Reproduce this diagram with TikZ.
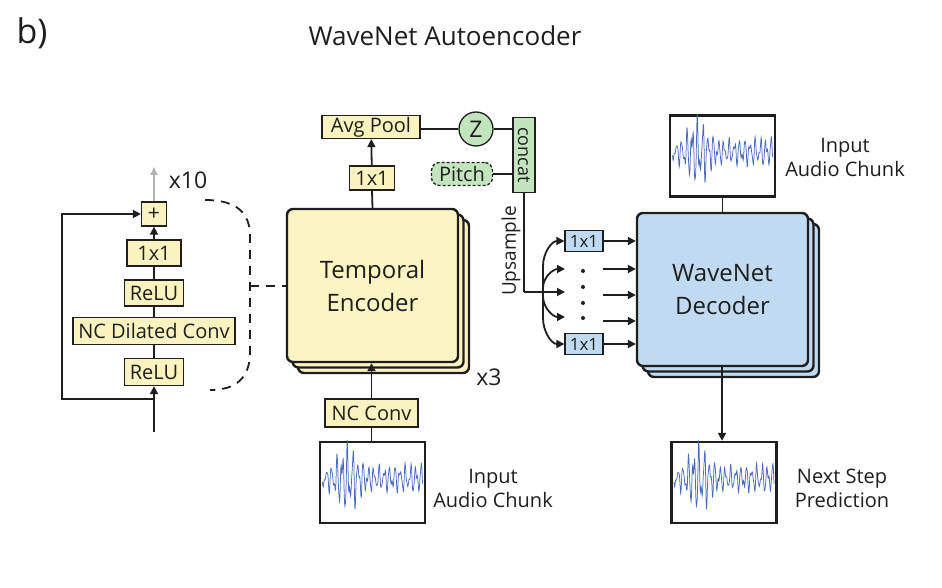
\documentclass[tikz,border=0pt]{standalone}
\usepackage{fontspec}
\setmainfont{Open Sans}
\usetikzlibrary{arrows.meta,shadows}
\definecolor{ylw}{HTML}{FAF3BF}
\definecolor{ylwbig}{HTML}{FCF5C3}
\definecolor{blu}{HTML}{BFDAF1}
\definecolor{grn}{HTML}{C3E5BE}
\definecolor{wav}{HTML}{4A6CBD}
\definecolor{ink}{HTML}{1E1E1E}
\newcommand\fs[1]{\fontsize{#1}{#1}\selectfont}
\newcommand\wavein[1]{%
  \begin{scope}
    \clip (#1.south west) rectangle (#1.north east);
    \begin{scope}[shift={(#1.center)}]
      \draw[wav, line width=0.75pt] plot[domain=-50:50, samples=300] (\x, {wsig((\x+50)/100)});
    \end{scope}
  \end{scope}}
\begin{document}
\begin{tikzpicture}[x=1pt,y=-1pt,
  declare function={wenv(\t)=10+7*\t+28*exp(-((\t-0.25)/0.13)*((\t-0.25)/0.13));
                    wsig(\t)=-4+wenv(\t)*(0.6*sin(mod(\t*19,1)*360)+0.3*sin(mod(\t*31,1)*360+60)+0.15*sin(mod(\t*47,1)*360+20));},
  sbox/.style={draw=ink, line width=1.3pt, fill=ylw, inner sep=0pt, text=ink, font=\fs{20}},
  bbox/.style={draw=ink, line width=1.3pt, fill=blu, inner sep=0pt, text=ink, font=\fs{17}},
  bigbox/.style={draw=ink, line width=2.4pt, rounded corners=6pt, inner sep=0pt,
    minimum width=171pt, minimum height=153pt, align=center, text=ink, font=\fs{24},
    double copy shadow={shadow xshift=5.5pt, shadow yshift=-5.5pt}},
  audbox/.style={draw=ink, line width=2.4pt, fill=white, inner sep=0pt, minimum width=105pt, minimum height=81pt},
  lbl/.style={align=center, text=ink, font=\fs{20}, inner sep=0pt},
  con/.style={draw=ink, line width=1.8pt},
  arr/.style={con, -{Triangle[length=8pt,width=8pt]}},
]
\useasboundingbox (0,0) rectangle (942,588);

% titles
\node[lbl, font=\fs{34}] (b) at (32,33) {b)};
\node[lbl, font=\fs{26}] (title) at (445,36) {WaveNet Autoencoder};

% ---------- residual block ----------
\node[sbox, minimum width=25pt, minimum height=24pt, font=\fs{21}] (plus) at (154,214) {+};
\node[sbox, minimum width=54pt, minimum height=26pt] (c11a) at (154,253) {1x1};
\node[sbox, minimum width=59pt, minimum height=26pt] (relu1) at (154,293) {ReLU};
\node[sbox, minimum width=162pt, minimum height=27pt] (ncdil) at (154,331) {NC Dilated Conv};
\node[sbox, minimum width=59pt, minimum height=27pt] (relu2) at (154,372) {ReLU};
\coordinate (rin) at (154,432);
\coordinate (rsplit) at (154,399);
\coordinate (rleft) at (62,399);
\coordinate (rtop) at (62,214);
\coordinate (rout) at (154,167);
\draw[arr] (rin) -- (relu2.south);
\draw[con] (relu2) -- (ncdil);
\draw[con] (ncdil) -- (relu1);
\draw[con] (relu1) -- (c11a);
\draw[arr] (c11a) -- (plus);
\draw[arr] (rsplit) -- (rleft) -- (rtop) -- (plus.west);
\draw[line width=1.8pt, draw=gray!60, -{Triangle[length=8pt,width=7pt]}] (plus.north) -- (rout);
\node[lbl, font=\fs{23}] (x10) at (188,180) {x10};

% ---------- encoder ----------
\node[bigbox, fill=ylwbig] (enc) at (372.5,285.5) {Temporal\\[9pt]Encoder};
\node[lbl, font=\fs{23}] (x3) at (489,377) {x3};

% dashed bracket
\coordinate (d1) at (205,200);
\coordinate (d2) at (250,236);
\coordinate (d3) at (250,352);
\coordinate (d4) at (210,390);
\coordinate (dm) at (250,286);
\draw[con, dash pattern=on 9pt off 7pt] (d1) .. controls (238,200) and (250,214) .. (d2) -- (d3) .. controls (250,378) and (236,390) .. (d4);
\draw[con, dash pattern=on 9pt off 7pt] (dm) -- (enc.west |- dm);

\node[sbox, minimum width=45pt, minimum height=24pt] (c11b) at (372,178) {1x1};
\node[sbox, minimum width=98pt, minimum height=23pt] (avg) at (371,127) {Avg Pool};
\node[circle, draw=ink, line width=1.3pt, fill=grn, minimum size=34pt, inner sep=0pt, font=\fs{23}, text=ink] (z) at (476,129) {Z};
\node[draw=ink, line width=1.3pt, fill=grn, inner sep=0pt, minimum width=22pt, minimum height=75pt] (cat) at (524,155) {};
\node[rotate=-90, font=\fs{18}, text=ink, inner sep=0pt] (cattxt) at (cat.center) {concat};
\node[draw=ink, line width=1.3pt, dash pattern=on 3pt off 2pt, rounded corners=8pt, fill=grn, inner sep=0pt,
      minimum width=61pt, minimum height=23pt, font=\fs{20}, text=ink] (pitch) at (462,174) {Pitch};
\draw[con] (enc.north) -- (c11b.south);
\draw[arr] (c11b) -- (avg);
\draw[con] (avg.east |- z) -- (z.west);
\draw[con] (z.east) -- (cat.west |- z);
\draw[con] (pitch.east) -- (cat.west |- pitch);

% encoder input
\node[sbox, minimum width=93pt, minimum height=28pt] (ncconv) at (371.5,413) {NC Conv};
\node[audbox] (aud1) at (372.5,482.5) {};
\wavein{aud1}
\node[lbl] (aud1t) at (493,488) {Input\\[4pt]Audio Chunk};
\draw[con] (aud1.north -| ncconv) -- (ncconv.south);
\draw[arr] (ncconv.north) -- (enc.south -| ncconv);

% ---------- upsample ----------
\coordinate (up) at (524,292);
\coordinate (br) at (543,292);
\node[rotate=90, font=\fs{19}, text=ink, inner sep=0pt] (upt) at (511,251) {Upsample};
\node[bbox, minimum width=38pt, minimum height=21pt] (u1) at (584,241) {1x1};
\node[bbox, minimum width=38pt, minimum height=21pt] (u5) at (584,344) {1x1};
\coordinate (f2) at (565,269);
\coordinate (f3) at (565,292);
\coordinate (f4) at (565,317);
\coordinate (g2) at (603,269);
\coordinate (g3) at (603,295);
\coordinate (g4) at (603,321);
\draw[con] (cat.south) -- (up);
\draw[arr] (up) -- (f3);
\draw[arr] (br) -- (543,266) to[out=90,in=180] (u1.west);
\draw[arr] (br) -- (543,288) to[out=90,in=180] (f2);
\draw[arr] (br) -- (543,296) to[out=-90,in=180] (f4);
\draw[arr] (br) -- (543,318) to[out=-90,in=180] (u5.west);
\foreach \yy/\nm in {271/p1,287/p2,303/p3,318/p4}
  \fill[ink] (583,\yy) circle (2pt) coordinate (\nm);

% ---------- decoder ----------
\node[bigbox, fill=blu] (dec) at (722.5,289.5) {WaveNet\\[9pt]Decoder};
\draw[arr] (u1.east) -- (dec.west |- u1);
\draw[arr] (g2) -- (dec.west |- g2);
\draw[arr] (g3) -- (dec.west |- g3);
\draw[arr] (g4) -- (dec.west |- g4);
\draw[arr] (u5.east) -- (dec.west |- u5);

\node[audbox] (aud2) at (722.5,156) {};
\wavein{aud2}
\node[lbl] (aud2t) at (845,157) {Input\\[4pt]Audio Chunk};
\draw[con] (aud2.south) -- (dec.north);

\node[audbox] (aud3) at (724,482.5) {};
\wavein{aud3}
\node[lbl] (aud3t) at (842,488) {Next Step\\[4pt]Prediction};
\draw[arr] (dec.south -| 722,0) -- (aud3.north -| 722,0);
\end{tikzpicture}
\end{document}
